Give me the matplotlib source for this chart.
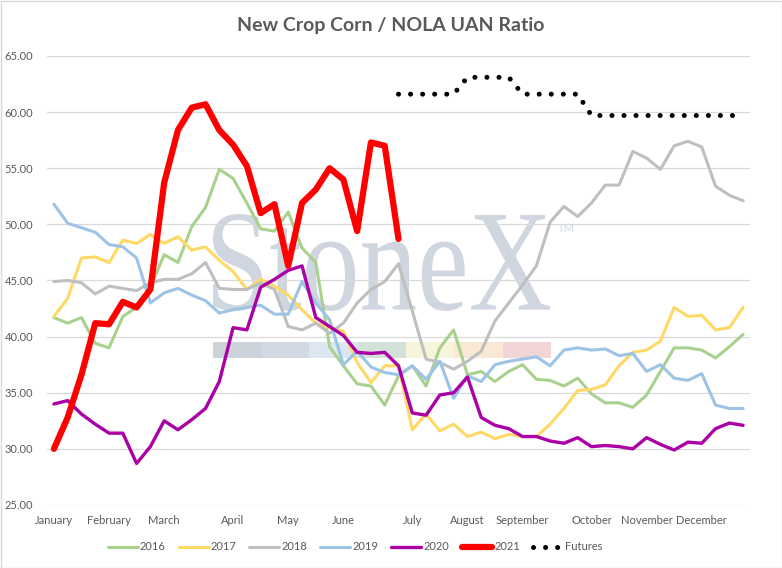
import matplotlib
matplotlib.use("Agg")
import matplotlib.pyplot as plt
from matplotlib.font_manager import FontProperties
from matplotlib.patches import PathPatch, Rectangle
from matplotlib.textpath import TextPath
from matplotlib.transforms import Affine2D

plt.rcParams["font.family"] = ["Lato", "DejaVu Sans"]

# weekly points, Jan -> Dec
months = ["January", "February", "March", "April", "May", "June",
          "July", "August", "September", "October", "November", "December"]
month_pos = [0, 4, 8, 13, 17, 21, 26, 30, 34, 39, 43, 47]

y2016 = [41.7, 41.2, 41.7, 39.4, 39.0, 41.8, 42.6, 44.4, 47.3, 46.6, 49.8, 51.5, 54.9, 54.1, 51.9, 49.6, 49.4,
         51.1, 47.9, 46.6, 39.1, 37.4, 35.8, 35.6, 33.9, 36.5, 37.4, 35.6, 39.0, 40.6, 36.6, 36.9, 36.0, 36.9,
         37.5, 36.2, 36.1, 35.6, 36.3, 34.9, 34.1, 34.1, 33.7, 34.8, 36.9, 39.0, 39.0, 38.8, 38.1, 39.1, 40.2]
y2017 = [41.8, 43.4, 47.0, 47.1, 46.6, 48.6, 48.3, 49.1, 48.3, 48.9, 47.7, 48.0, 46.8, 45.8, 44.2, 45.1, 44.5,
         43.7, 42.4, 41.2, 40.8, 40.5, 37.7, 35.9, 37.4, 37.4, 31.7, 33.1, 31.6, 32.2, 31.1, 31.5, 30.9, 31.3,
         31.1, 31.1, 32.2, 33.6, 35.2, 35.3, 35.7, 37.4, 38.6, 38.8, 39.6, 42.6, 41.8, 41.9, 40.6, 40.8, 42.6]
y2018 = [44.9, 45.0, 44.8, 43.8, 44.5, 44.3, 44.1, 44.8, 45.1, 45.1, 45.6, 46.6, 44.3, 44.2, 44.2, 44.8, 44.2,
         40.9, 40.6, 41.2, 40.3, 41.2, 43.0, 44.2, 44.9, 46.5, 42.3, 38.0, 37.7, 37.1, 37.8, 38.7, 41.4, 43.0,
         44.6, 46.3, 50.2, 51.6, 50.7, 51.9, 53.5, 53.5, 56.5, 55.9, 54.9, 57.0, 57.4, 56.9, 53.4, 52.6, 52.1]
y2019 = [51.8, 50.1, 49.7, 49.3, 48.2, 48.0, 47.0, 43.0, 43.9, 44.3, 43.7, 43.2, 42.1, 42.4, 42.6, 42.8, 42.0,
         42.0, 44.9, 43.0, 41.5, 37.5, 38.7, 37.3, 36.8, 36.6, 37.4, 36.2, 37.8, 34.5, 36.5, 36.0, 37.5, 37.8,
         38.0, 38.2, 37.4, 38.8, 39.0, 38.8, 38.9, 38.3, 38.5, 36.9, 37.5, 36.3, 36.1, 36.7, 33.9, 33.6, 33.6]
y2020 = [34.0, 34.3, 33.1, 32.2, 31.4, 31.4, 28.7, 30.2, 32.5, 31.7, 32.6, 33.6, 36.0, 40.8, 40.6, 44.4, 45.1,
         45.9, 46.3, 41.7, 40.9, 40.1, 38.6, 38.5, 38.6, 37.4, 33.2, 33.0, 34.8, 35.0, 36.4, 32.8, 32.1, 31.8,
         31.1, 31.1, 30.7, 30.5, 31.0, 30.2, 30.3, 30.2, 30.0, 31.0, 30.4, 29.9, 30.6, 30.5, 31.8, 32.3, 32.1]
y2021 = [30.0, 32.8, 36.6, 41.2, 41.1, 43.1, 42.6, 44.2, 53.7, 58.4, 60.4, 60.7, 58.4, 57.1, 55.2, 51.0, 51.8,
         46.3, 51.9, 53.1, 55.0, 54.0, 49.4, 57.3, 57.0, 48.7]
futures_start = 25
futures = [61.6, 61.6, 61.6, 61.6, 61.6, 63.1, 63.1, 63.1, 63.1, 61.6, 61.6, 61.6, 61.6, 61.6,
           59.7, 59.7, 59.7, 59.7, 59.7, 59.7, 59.7, 59.7, 59.7, 59.7, 59.7, 59.7]

series = [
    ("2016", y2016, "#A9D18E", 2.2),
    ("2017", y2017, "#FFD966", 2.2),
    ("2018", y2018, "#BFBFBF", 2.2),
    ("2019", y2019, "#9DC3E6", 2.2),
    ("2020", y2020, "#AA00A6", 2.4),
    ("2021", y2021, "#FF0000", 4.5),
]

W, H = 782, 568
fig = plt.figure(figsize=(W / 100, H / 100), dpi=100)
ax = fig.add_axes([47 / W, 1 - 505 / H, 703 / W, 449 / H])

for name, vals, col, lw in series:
    ax.plot(range(len(vals)), vals, color=col, lw=lw, label=name,
            solid_joinstyle="round", solid_capstyle="round", zorder=3)
fut_x = range(futures_start, futures_start + len(futures))
ax.plot(fut_x, futures, color="black", lw=3.6, linestyle=(0, (0.01, 2.4)),
        dash_capstyle="round", label="Futures", zorder=3)

ax.set_xlim(-0.5, 50.5)
ax.set_ylim(25, 65)
ax.set_yticks(range(25, 66, 5))
ax.set_yticklabels([f"{v:.2f}" for v in range(25, 66, 5)])
ax.set_xticks(month_pos)
ax.set_xticklabels(months)
ax.tick_params(length=0, labelsize=8, colors="#595959")
ax.tick_params(axis="y", pad=10)
ax.tick_params(axis="x", pad=7)
ax.grid(axis="y", color="#D9D9D9", lw=0.9)
ax.set_axisbelow(True)
for s in ax.spines.values():
    s.set_visible(False)

# StoneX watermark
tp = TextPath((0, 0), "StoneX", size=100, prop=FontProperties(family="Liberation Serif"))
ext = tp.get_extents()
x0, x1 = 213 / W, 550 / W
y0, y1 = 1 - 311 / H, 1 - 214 / H
tr = (Affine2D().translate(-ext.x0, -ext.y0)
      .scale((x1 - x0) / ext.width, (y1 - y0) / ext.height)
      .translate(x0, y0) + fig.transFigure)
ax.add_artist(PathPatch(tp, facecolor="#CFD6E0", edgecolor="none", transform=tr, zorder=0.2))
ax.text(558 / W, 1 - 228 / H, "TM", transform=fig.transFigure, fontsize=8,
        color="#CFD6E0", va="center", ha="left", zorder=0.2)
bar_cols = ["#CDD3DB", "#D3D9E2", "#DDE7F1", "#D3E2D9", "#F6F4D9", "#F8E8D4", "#F1D5D7"]
bw = 48.35
for k, c in enumerate(bar_cols):
    ax.add_artist(Rectangle(((212.7 + k * bw) / W, 1 - 358.3 / H), bw / W, 16.6 / H,
                            transform=fig.transFigure, facecolor=c, edgecolor="none", zorder=0.2))

fig.text(0.5, 1 - 25 / H, "New Crop Corn / NOLA UAN Ratio", ha="center", va="center",
         fontsize=14, fontweight="bold", color="#595959")

leg = fig.legend(loc="center", bbox_to_anchor=(0.454, 1 - 547 / H), ncol=7, frameon=False,
                 fontsize=8, handlelength=2.7, handletextpad=0.2, columnspacing=1.15)
for t in leg.get_texts():
    t.set_color("#595959")

fig.add_artist(Rectangle((0.5 / W, 0.5 / H), 1 - 1 / W, 1 - 1 / H, transform=fig.transFigure,
                         fill=False, edgecolor="#D9D9D9", lw=1))

fig.savefig("out.png", dpi=100)
